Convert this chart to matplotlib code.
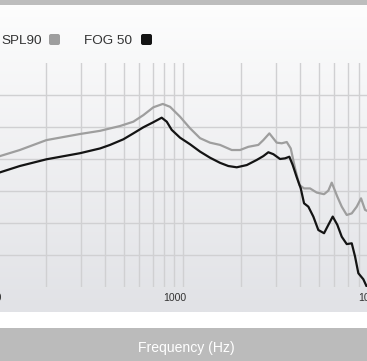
import numpy as np
import matplotlib
matplotlib.use("Agg")
import matplotlib.pyplot as plt
from matplotlib.patches import Rectangle, FancyBboxPatch
from matplotlib.ticker import FixedLocator, NullFormatter

# ---- data ----
spl_freq = [110, 146, 200, 297, 377, 477, 558, 628, 707, 790, 861, 969, 1090, 1227,
            1380, 1553, 1784, 1967, 2170, 2442, 2590, 2781, 3034, 3219, 3415, 3580,
            3766, 3962, 4189, 4496, 4867, 5305, 5580, 5809, 6207, 6538, 6935, 7357,
            7805, 8209, 8607, 8811, 9000]
spl_db = [40.6, 42.9, 46.0, 47.9, 48.9, 50.4, 51.75, 53.8, 56.25, 57.3, 56.4, 53.3, 49.7, 46.6,
          45.2, 44.5, 42.9, 42.9, 43.9, 44.5, 46.0, 48.1, 45.2, 45.0, 45.4, 43.4,
          37.2, 32.0, 30.9, 30.9, 29.6, 29.1, 30.2, 32.7, 28.3, 25.2, 22.6, 23.1,
          25.2, 27.8, 24.2, 23.9, 23.7]

fog_freq = [110, 146, 200, 297, 377, 424, 496, 558, 628, 707, 780, 828, 878, 969, 1090,
            1227, 1380, 1553, 1713, 1892, 2130, 2396, 2590, 2748, 2915, 3155, 3347,
            3522, 3665, 3842, 4029, 4189, 4407, 4674, 4959, 5305, 5580, 5878, 6207,
            6538, 6935, 7357, 7650, 7953, 8438, 8781, 9000]
fog_db = [35.5, 37.9, 40.0, 41.9, 43.4, 44.5, 46.25, 48.1, 50.0, 51.6, 53.0, 51.75, 49.2, 46.75, 44.7,
          42.4, 40.5, 38.9, 37.9, 37.5, 38.2, 39.8, 41.0, 42.2, 41.6, 40.1, 40.3,
          40.8, 38.2, 34.4, 30.9, 26.25, 25.2, 22.1, 17.9, 16.9, 19.5, 22.1, 19.5,
          15.8, 13.5, 13.75, 9.6, 4.4, 2.5, 0.2, -1.0]

series_names = ["SPL90", "FOG 50"]
series_colors = ["#9e9e9e", "#141414"]
tick_values = [100, 1000, 10000]
tick_labels = ["100", "1000", "10000"]
minor_values = [200, 300, 400, 500, 600, 700, 800, 900,
                2000, 3000, 4000, 5000, 6000, 7000, 8000, 9000]
y_grid = [10, 20, 30, 40, 50, 60]
x_title = "Frequency (Hz)"

W, H = 367, 361
fig = plt.figure(figsize=(W / 100, H / 100), dpi=100)

# background decoration (pixel coordinates)
bg = fig.add_axes([0, 0, 1, 1], zorder=0)
bg.set_xlim(0, W)
bg.set_ylim(H, 0)
bg.set_axis_off()
top_c = np.array([0xfd, 0xfd, 0xfd]) / 255
bot_c = np.array([0xe1, 0xe2, 0xe6]) / 255
t = np.linspace(0, 1, 256)[:, None, None]
grad = top_c[None, None, :] * (1 - t) + bot_c[None, None, :] * t
bg.imshow(grad, extent=[0, W, 312, 5], aspect="auto", interpolation="bilinear")
bg.add_patch(Rectangle((0, 0), W, 5, color="#bdbdbd", lw=0))
bg.add_patch(Rectangle((0, 312), W, 16, color="#ffffff", lw=0))
bg.add_patch(Rectangle((0, 328), W, 33, color="#bbbbbb", lw=0))

# legend
fnt = "Liberation Sans"
bg.text(41.5, 40.5, series_names[0], ha="right", va="center", fontsize=9.7,
        color="#333333", family=fnt)
bg.add_patch(FancyBboxPatch((49, 34), 11, 11, boxstyle="round,pad=0,rounding_size=2",
                            color=series_colors[0], lw=0))
bg.text(131.7, 40.5, series_names[1], ha="right", va="center", fontsize=9.7,
        color="#333333", family=fnt)
bg.add_patch(FancyBboxPatch((141, 34), 11, 11, boxstyle="round,pad=0,rounding_size=2",
                            color=series_colors[1], lw=0))

# x title
bg.text(W / 2 + 3, 348, x_title, ha="center", va="center", fontsize=10.1,
        color="white", family=fnt)

# main plot
top_px, bot_px = 63.3, 287.3
ax = fig.add_axes([0, 1 - bot_px / H, 1, (bot_px - top_px) / H], zorder=1)
ax.patch.set_alpha(0)
ax.set_xscale("log")
ax.set_xlim(115.6, 8809)
ax.set_ylim(0, 70)
for s in ax.spines.values():
    s.set_visible(False)

ax.xaxis.set_major_locator(FixedLocator([1000]))
ax.xaxis.set_minor_locator(FixedLocator(minor_values))
ax.xaxis.set_major_formatter(NullFormatter())
ax.xaxis.set_minor_formatter(NullFormatter())
ax.set_yticks(y_grid)
ax.set_yticklabels([])
ax.tick_params(axis="both", which="both", length=0)
ax.grid(True, which="both", axis="x", color="#d0d0d2", lw=1.0)
ax.grid(True, which="major", axis="y", color="#d0d0d2", lw=1.0)
ax.set_axisbelow(True)

# tick labels (placed at their frequency, offset as in the reference)
offsets_px = [5.5, -8.4, -5.4]
for val, lab, dx in zip(tick_values, tick_labels, offsets_px):
    ax.annotate(lab, xy=(val, 0), xycoords=("data", "axes fraction"),
                xytext=(dx * 0.72, -11 * 0.72), textcoords="offset points",
                ha="center", va="center", fontsize=7.6, color="#333333",
                family=fnt, annotation_clip=False)

ax.plot(spl_freq, spl_db, color=series_colors[0], lw=1.6, solid_joinstyle="round",
        solid_capstyle="round")
ax.plot(fog_freq, fog_db, color=series_colors[1], lw=1.6, solid_joinstyle="round",
        solid_capstyle="round")

fig.savefig("out.png", dpi=100)
